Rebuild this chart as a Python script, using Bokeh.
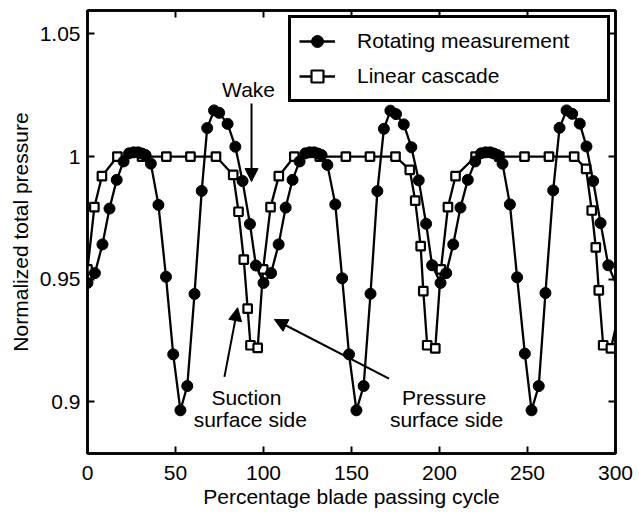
from bokeh.plotting import figure
from bokeh.models import (ColumnDataSource, CDSView, IndexFilter, FixedTicker, LinearAxis,
                          PrintfTickFormatter, Arrow, NormalHead, Legend, LegendItem, Label, Range1d)
from bokeh.embed import file_html
from bokeh.resources import INLINE

# ---------------- data ----------------
rot_x = [0.0, 4.2, 8.5, 12.5, 16.6, 20.5, 23.6, 26.2, 28.8, 31.0, 33.0, 36.0, 40.3, 44.6,
         48.7, 52.8, 56.7, 60.8, 64.9, 68.0, 71.9, 74.8, 79.6, 84.0, 88.1, 92.3, 95.7,
         100.0, 104.3, 108.6, 112.6, 116.5, 120.5, 123.8, 126.3, 128.8, 131.0, 133.0, 136.3, 140.8,
         144.7, 148.6, 152.8, 156.9, 160.8, 164.7, 168.4, 172.1, 175.3, 179.7, 184.0, 188.2, 192.4, 195.8,
         200.6, 203.8, 207.8, 211.9, 216.1, 220.3, 223.6, 226.2, 228.8, 231.0, 233.0, 235.8, 240.0,
         244.1, 248.5, 252.3, 256.4, 260.2, 264.6, 268.2, 272.2, 275.4, 279.7, 283.5, 287.3, 291.5,
         295.9, 300.0]
rot_y = [0.9485, 0.9525, 0.9642, 0.9788, 0.9905, 0.9980, 1.0013, 1.0017, 1.0017, 1.0012, 1.0006, 0.9971, 0.9803, 0.9510,
         0.9194, 0.8966, 0.9065, 0.9440, 0.9860, 1.0116, 1.0188, 1.0178, 1.0133, 1.0040, 0.9900, 0.9725, 0.9556,
         0.9485, 0.9525, 0.9642, 0.9792, 0.9905, 0.9980, 1.0013, 1.0017, 1.0017, 1.0012, 1.0006, 0.9966, 0.9805,
         0.9504, 0.9194, 0.8966, 0.9065, 0.9441, 0.9859, 1.0113, 1.0187, 1.0173, 1.0131, 1.0038, 0.9903, 0.9726, 0.9557,
         0.9485, 0.9525, 0.9642, 0.9792, 0.9905, 0.9980, 1.0013, 1.0017, 1.0017, 1.0012, 1.0006, 0.9971, 0.9805,
         0.9508, 0.9197, 0.8966, 0.9065, 0.9444, 0.9862, 1.0117, 1.0188, 1.0174, 1.0134, 1.0041, 0.9900, 0.9729,
         0.9557, 0.9485]

lin_x = [0.0, 3.9, 8.2, 17.0, 31.0, 44.8, 58.5, 73.0, 82.8, 85.8, 88.8, 91.0, 92.6, 96.7,
         99.8, 104.0, 108.7, 117.5, 132.0, 146.8, 160.5, 175.0, 183.1, 186.2, 189.3, 190.8, 193.0, 197.6,
         200.8, 204.8, 209.1, 220.5, 234.0, 248.3, 262.2, 276.5, 283.3, 286.5, 288.8, 290.5, 293.0, 297.4, 300.0]
lin_y = [0.954, 0.9794, 0.992, 1.0, 1.0, 1.0, 1.0, 1.0, 0.9925, 0.9775, 0.958, 0.938, 0.9231, 0.922,
         0.954, 0.9794, 0.992, 1.0, 1.0, 1.0, 1.0, 1.0, 0.9946, 0.982, 0.9635, 0.9452, 0.9231, 0.9218,
         0.954, 0.9794, 0.992, 1.0, 1.0, 1.0, 1.0, 1.0, 0.995, 0.978, 0.963, 0.9455, 0.9231, 0.9218, 0.930]

x_ticks = [0, 50, 100, 150, 200, 250, 300]
y_ticks = [0.9, 0.95, 1.0, 1.05]

series_names = ["Rotating measurement", "Linear cascade"]
x_title = "Percentage blade passing cycle"
y_title = "Normalized total pressure"

FONT = "Liberation Sans"
FS = "21px"

# ---------------- figure ----------------
p = figure(width=639, height=516, output_backend="svg", toolbar_location=None,
           x_range=Range1d(0, 300), y_range=Range1d(0.879, 1.0595),
           min_border_left=87, min_border_right=24, min_border_top=10, min_border_bottom=63)
p.background_fill_color = "white"
p.border_fill_color = "white"
p.grid.visible = False
p.outline_line_color = "black"
p.outline_line_width = 2.5

rot_src = ColumnDataSource(data=dict(x=rot_x, y=rot_y))
lin_src = ColumnDataSource(data=dict(x=lin_x, y=lin_y))
rot_view = CDSView(filter=IndexFilter(list(range(len(rot_x) - 1))))
lin_view = CDSView(filter=IndexFilter(list(range(len(lin_x) - 1))))

lin_line = p.line("x", "y", source=lin_src, line_color="black", line_width=2.3)
lin_mark = p.scatter("x", "y", source=lin_src, view=lin_view, marker="square", size=8.5,
                     fill_color="white", line_color="black", line_width=2.2)
rot_line = p.line("x", "y", source=rot_src, line_color="black", line_width=2.3)
rot_mark = p.scatter("x", "y", source=rot_src, view=rot_view, marker="circle", size=11,
                     fill_color="black", line_color="black")

# ---------------- axes ----------------
def style_axis(ax, ticks, labels=True):
    ax.ticker = FixedTicker(ticks=ticks)
    ax.major_tick_in = 7
    ax.major_tick_out = 0
    ax.minor_tick_in = 0
    ax.minor_tick_out = 0
    ax.major_tick_line_width = 2
    ax.major_tick_line_color = "black"
    ax.axis_line_width = 2.5
    ax.axis_line_color = "black"
    if labels:
        ax.major_label_text_font = FONT
        ax.major_label_text_font_size = FS
        ax.major_label_text_color = "black"
        ax.axis_label_text_font = FONT
        ax.axis_label_text_font_size = FS
        ax.axis_label_text_font_style = "normal"
        ax.axis_label_text_color = "black"
    else:
        ax.major_label_text_font_size = "1px"
        ax.major_label_text_color = None
        ax.major_label_standoff = 0

xa = p.xaxis[0]
ya = p.yaxis[0]
style_axis(xa, x_ticks)
style_axis(ya, y_ticks)
xa.axis_label = x_title
ya.axis_label = y_title
xa.major_label_standoff = 12
xa.axis_label_standoff = 2
ya.major_label_standoff = 7
ya.axis_label_standoff = 5
ya.formatter = PrintfTickFormatter(format="%g")

top = LinearAxis()
style_axis(top, x_ticks, labels=False)
p.add_layout(top, "above")
right = LinearAxis()
style_axis(right, y_ticks, labels=False)
p.add_layout(right, "right")

# ---------------- legend ----------------
legend = Legend(items=[LegendItem(label=series_names[0], renderers=[rot_line, rot_mark]),
                       LegendItem(label=series_names[1], renderers=[lin_line, lin_mark])],
                location="top_right", margin=5, padding=8, spacing=5,
                glyph_width=36, glyph_height=30, label_height=30, label_width=242,
                label_standoff=22, border_line_color="black", border_line_alpha=1.0,
                border_line_width=3,
                label_text_font=FONT, label_text_font_size=FS, label_text_color="black",
                background_fill_color="white", background_fill_alpha=1.0)
p.add_layout(legend)

# ---------------- annotations ----------------
def arrow(xs, ys, xe, ye):
    p.add_layout(Arrow(end=NormalHead(size=13, fill_color="black", line_color="black"),
                       x_start=xs, y_start=ys, x_end=xe, y_end=ye,
                       line_color="black", line_width=2))

arrow(93.2, 1.0216, 93.2, 0.9898)
arrow(77.8, 0.9102, 85.3, 0.9384)
arrow(171.3, 0.9095, 106.2, 0.9336)

def label(x, y, t):
    p.add_layout(Label(x=x, y=y, text=t, text_font=FONT, text_font_size=FS,
                       text_color="black", text_align="center", text_baseline="alphabetic"))

label(91.5, 1.0272, "Wake")
label(90.3, 0.9020, "Suction")
label(92.5, 0.8928, "surface side")
label(202.6, 0.9020, "Pressure")
label(204.0, 0.8928, "surface side")

open("out.html", "w").write(file_html(p, INLINE))
